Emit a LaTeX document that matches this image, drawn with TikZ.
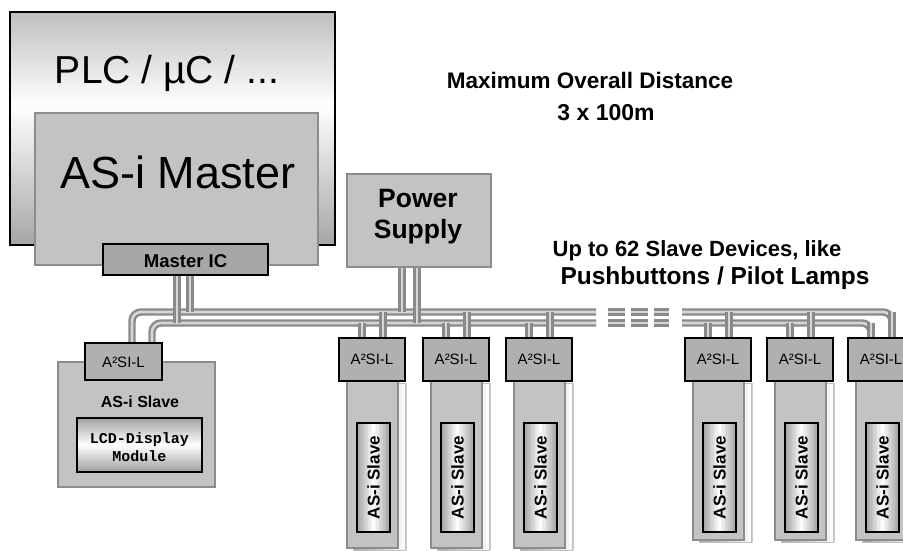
\documentclass[tikz,border=0pt]{standalone}
\usepackage{fontspec}
\setmainfont{Liberation Sans}
\newfontfamily\monofont{Liberation Mono}
\usetikzlibrary{calc}
\definecolor{boxgray}{HTML}{C3C3C3}
\definecolor{edgegray}{HTML}{8C8C8C}
\definecolor{chipgray}{HTML}{B0B0B0}
\definecolor{tubegray}{HTML}{8A8A8A}
\definecolor{tubelight}{HTML}{D6D6D6}
\definecolor{plctop}{HTML}{BEBEBE}
\definecolor{plcbot}{HTML}{A6A6A6}
\definecolor{gradgray}{HTML}{A0A0A0}
% vertical gradient: x1, ytop, x2, ymid, ybottom, top colour, bottom colour (white in the middle)
\newcommand\gradV[7]{%
  \foreach \i in {0,...,29}{%
    \pgfmathsetmacro\ya{(#2)+((#4)-(#2))*\i/30}%
    \pgfmathsetmacro\yb{(#2)+((#4)-(#2))*(\i+1)/30+0.5}%
    \pgfmathsetmacro\p{100*(\i+0.5)/30}%
    \fill[white!\p!#6] (#1,\ya) rectangle (#3,\yb);
  }%
  \foreach \i in {0,...,29}{%
    \pgfmathsetmacro\ya{(#4)+((#5)-(#4))*\i/30}%
    \pgfmathsetmacro\yb{min((#4)+((#5)-(#4))*(\i+1)/30+0.5,(#5))}%
    \pgfmathsetmacro\p{100-100*(\i+0.5)/30}%
    \fill[white!\p!#7] (#1,\ya) rectangle (#3,\yb);
  }%
}
% horizontal gradient: xleft, y1, xmid, xright, y2, left colour, right colour (white at xmid)
\newcommand\gradH[7]{%
  \foreach \i in {0,...,11}{%
    \pgfmathsetmacro\xa{(#1)+((#3)-(#1))*\i/12}%
    \pgfmathsetmacro\xb{min((#1)+((#3)-(#1))*(\i+1)/12+0.5,(#4))}%
    \pgfmathsetmacro\p{100*(\i+0.5)/12}%
    \fill[white!\p!#6] (\xa,#2) rectangle (\xb,#5);
  }%
  \foreach \i in {0,...,11}{%
    \pgfmathsetmacro\xa{(#3)+((#4)-(#3))*\i/12}%
    \pgfmathsetmacro\xb{min((#3)+((#4)-(#3))*(\i+1)/12+0.5,(#4))}%
    \pgfmathsetmacro\p{100-100*(\i+0.5)/12}%
    \fill[white!\p!#7] (\xa,#2) rectangle (\xb,#5);
  }%
}
\begin{document}
\begin{tikzpicture}[x=1pt,y=-1pt,
  tube/.style={draw=tubegray, line width=2.4pt, double=tubelight, double distance=2.6pt, rounded corners=9pt},
  plcbox/.style={draw=black, line width=2pt, rectangle, inner sep=0pt},
  graybox/.style={draw=edgegray, line width=1.8pt, fill=boxgray, rectangle, inner sep=0pt},
  chipbox/.style={draw=black, line width=1.3pt, fill=chipgray, rectangle, inner sep=0pt},
  bodybox/.style={draw=edgegray, line width=1.4pt, fill=boxgray},
  shadowedge/.style={draw=gray!50, line width=0.8pt},
  inneredge/.style={draw=black, line width=1.5pt},
  lcdbox/.style={draw=black, line width=1.5pt, rectangle, inner sep=0pt},
  lbl/.style={anchor=base, inner sep=0pt, text=black}
]
\path[use as bounding box, fill=white] (0,0) rectangle (903,550);

% ---------- bus coordinates ----------
\coordinate (uL) at (132,343);
\coordinate (lL) at (152,343);
\coordinate (uBreakL) at (596,312);
\coordinate (lBreakL) at (596,323);
\coordinate (uBreakR) at (682,312);
\coordinate (lBreakR) at (682,323);
\coordinate (uR) at (892,338);
\coordinate (lR) at (871,338);

% ---------- bus cables ----------
\draw[tube] (uL) -- (132,312) -- (uBreakL);
\draw[tube] (lL) -- (152,323) -- (lBreakL);
\draw[tube] (uBreakR) -- (892,312) -- (uR);
\draw[tube] (lBreakR) -- (871,323) -- (lR);
\foreach \a/\b in {608/625, 631/648, 654/669}{
  \draw[tube] (\a,312) -- (\b,312);
  \draw[tube] (\a,323) -- (\b,323);
}

% ---------- slaves in columns ----------
\foreach \n/\x/\bt in {1/339/548, 2/423/548, 3/506/548, 4/685/540, 5/767/540, 6/848/540}{
  \coordinate (lo\n) at (\x+23,323);
  \coordinate (up\n) at (\x+44,312);
  \draw[tube] (lo\n) -- (\x+23,340);
  \draw[tube] (up\n) -- (\x+44,340);
  \gradH{\x+14}{383}{\x+67}{\x+67}{\bt+2}{gradgray}{gradgray}
  \draw[shadowedge] (\x+14,383) rectangle (\x+66,\bt+2);
  \draw[bodybox] (\x+8,381) rectangle (\x+59,\bt);
  \node[chipbox, minimum width=66pt, minimum height=43pt] (chip\n) at (\x+33,359.5) {};
  \node[lbl, font=\fontsize{15}{17}\selectfont] at ($(chip\n.center)+(0,5)$) {A²SI-L};
  \gradH{\x+18}{423}{\x+34.5}{\x+51}{532}{gradgray}{gradgray}
  \draw[inneredge] (\x+18,423) rectangle (\x+51,532);
  \node[rotate=90, inner sep=0pt, font=\bfseries\fontsize{17}{19}\selectfont] (slv\n) at (\x+34.5,477.5) {AS-i Slave};
}

% ---------- master connection ----------
\coordinate (icA) at (177,323);
\coordinate (icB) at (190,312);
\draw[tube] (177,270) -- (icA);
\draw[tube] (190,270) -- (icB);

% ---------- power supply connection ----------
\coordinate (psA) at (402,312);
\coordinate (psB) at (417,323);
\draw[tube] (402,262) -- (psA);
\draw[tube] (417,262) -- (psB);

% ---------- PLC / master ----------
\gradV{10}{12}{335}{105}{245}{plctop}{plcbot}
\node[plcbox, minimum width=325pt, minimum height=233pt] (plc) at (172.5,128.5) {};
\node[graybox, minimum width=283pt, minimum height=152pt] (master) at (176.5,189) {};
\node[chipbox, minimum width=165pt, minimum height=31pt, fill=chipgray!95!black] (ic) at (185.5,259.5) {};
\node[lbl, font=\fontsize{39}{44}\selectfont] at (167,83) {PLC / µC / ...};
\node[lbl, font=\fontsize{45}{50}\selectfont] at (178,188) {AS-i Master};
\node[lbl, font=\bfseries\fontsize{18.5}{21}\selectfont] at (185.5,267) {Master IC};

% ---------- power supply ----------
\node[graybox, minimum width=144pt, minimum height=93pt] (ps) at (419,220.5) {};
\node[lbl, font=\bfseries\fontsize{26.5}{30}\selectfont] at (418,207) {Power};
\node[lbl, font=\bfseries\fontsize{26.5}{30}\selectfont] at (418,238) {Supply};

% ---------- LCD slave ----------
\node[graybox, line width=1.4pt, minimum width=157pt, minimum height=125pt] (lcdslave) at (136.5,424.5) {};
\node[chipbox, minimum width=77pt, minimum height=37pt] (chip0) at (123.5,361.5) {};
\node[lbl, font=\fontsize{15}{17}\selectfont] at (123.5,367) {A²SI-L};
\node[lbl, font=\bfseries\fontsize{16}{18}\selectfont] at (140,407) {AS-i Slave};
\gradV{77}{418}{202}{445}{472}{gradgray}{gradgray}
\node[lcdbox, minimum width=125pt, minimum height=54pt] (lcd) at (139.5,445) {};
\node[lbl, font=\monofont\bfseries\fontsize{15}{17}\selectfont] at (139.5,443) {LCD-Display};
\node[lbl, font=\monofont\bfseries\fontsize{15}{17}\selectfont] at (139.5,461) {Module};

% ---------- titles ----------
\node[lbl, font=\bfseries\fontsize{22.5}{26}\selectfont] (maxd) at (590,88) {Maximum Overall Distance};
\node[lbl, font=\bfseries\fontsize{23}{26}\selectfont] (dist) at (606,120) {3 x 100m};
\node[lbl, font=\bfseries\fontsize{22}{26}\selectfont] (upto) at (697,256) {Up to 62 Slave Devices, like};
\node[lbl, font=\bfseries\fontsize{24.5}{28}\selectfont] (push) at (715,284) {Pushbuttons / Pilot Lamps};
\end{tikzpicture}
\end{document}
